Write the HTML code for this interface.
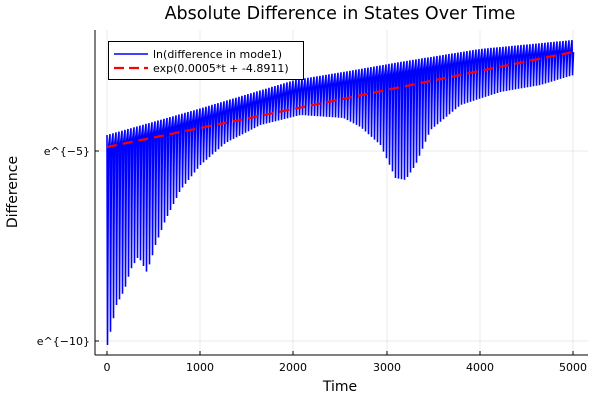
<!DOCTYPE html>
<html><head><style>body{margin:0;background:#fff}svg{display:block;font-family:"DejaVu Sans","Liberation Sans",sans-serif}</style></head>
<body>
<svg id="s" width="600" height="400" viewBox="0 0 600 400">
<rect width="600" height="400" fill="#fff"/>
<g stroke="#000" stroke-opacity="0.08" stroke-width="1">
<line x1="107" y1="30" x2="107" y2="355"/><line x1="200" y1="30" x2="200" y2="355"/><line x1="293" y1="30" x2="293" y2="355"/><line x1="387" y1="30" x2="387" y2="355"/><line x1="480" y1="30" x2="480" y2="355"/><line x1="573" y1="30" x2="573" y2="355"/>
<line x1="95" y1="151" x2="588" y2="151"/><line x1="95" y1="341" x2="588" y2="341"/>
</g>
<path id="blue" fill="none" stroke="#0000ff" stroke-width="1.6"/>
<line x1="107" y1="147" x2="573" y2="52" stroke="#ff0000" stroke-width="2.2" stroke-dasharray="10,6"/>
<g stroke="#000" stroke-width="1">
<line x1="95" y1="355" x2="588" y2="355"/><line x1="95" y1="30" x2="95" y2="355"/>
<line x1="107" y1="355" x2="107" y2="351"/><line x1="200" y1="355" x2="200" y2="351"/><line x1="293" y1="355" x2="293" y2="351"/><line x1="387" y1="355" x2="387" y2="351"/><line x1="480" y1="355" x2="480" y2="351"/><line x1="573" y1="355" x2="573" y2="351"/>
<line x1="95" y1="151" x2="99" y2="151"/><line x1="95" y1="341" x2="99" y2="341"/>
</g>
<g font-size="11" fill="#000" text-anchor="middle">
<text x="107" y="371">0</text><text x="200" y="371">1000</text><text x="293" y="371">2000</text><text x="387" y="371">3000</text><text x="480" y="371">4000</text><text x="573" y="371">5000</text>
</g>
<g font-size="11" fill="#000" text-anchor="end">
<text x="90" y="155">e^{−5}</text><text x="90" y="345">e^{−10}</text>
</g>
<text x="340" y="19" font-size="17.5" text-anchor="middle">Absolute Difference in States Over Time</text>
<text x="340" y="391" font-size="14" text-anchor="middle">Time</text>
<text transform="translate(17,192) rotate(-90)" font-size="14" text-anchor="middle">Difference</text>
<rect x="108.5" y="41.5" width="195" height="38" fill="#fff" stroke="#000" stroke-width="1"/>
<line x1="114" y1="54" x2="148" y2="54" stroke="#0000ff" stroke-width="1.5"/>
<line x1="114" y1="68" x2="148" y2="68" stroke="#ff0000" stroke-width="2.2" stroke-dasharray="10,5"/>
<text x="153" y="58" font-size="11">ln(difference in mode1)</text>
<text x="153" y="72" font-size="11">exp(0.0005*t + -4.8911)</text>
</svg>
<script>
function interp(pts,x){for(var i=0;i<pts.length-1;i++){if(x<=pts[i+1][0]){var a=pts[i],b=pts[i+1];return a[1]+(b[1]-a[1])*(x-a[0])/(b[0]-a[0]);}}return pts[pts.length-1][1];}
var up=[[107,135],[195,110],[295,80],[343,72],[400,62],[480,49],[573,40]];
var lo=[[107,345],[116,305],[124,290],[130,270],[137,258],[142,262],[145,274],[150,262],[155,245],[165,220],[180,190],[200,165],[225,143],[260,125],[300,115],[343,118],[360,127],[380,145],[395,178],[405,180],[415,165],[430,130],[460,105],[500,92],[540,85],[573,75]];
var d="";for(var x=107;x<=573;x+=3){var u=interp(up,x),l=interp(lo,x);d+=(d?"L":"M")+x+" "+u.toFixed(1)+"L"+(x+0.5)+" "+l.toFixed(1)+"L"+(x+1.5)+" "+(u+12).toFixed(1);}
document.getElementById("blue").setAttribute("d",d);
</script>
</body></html>
